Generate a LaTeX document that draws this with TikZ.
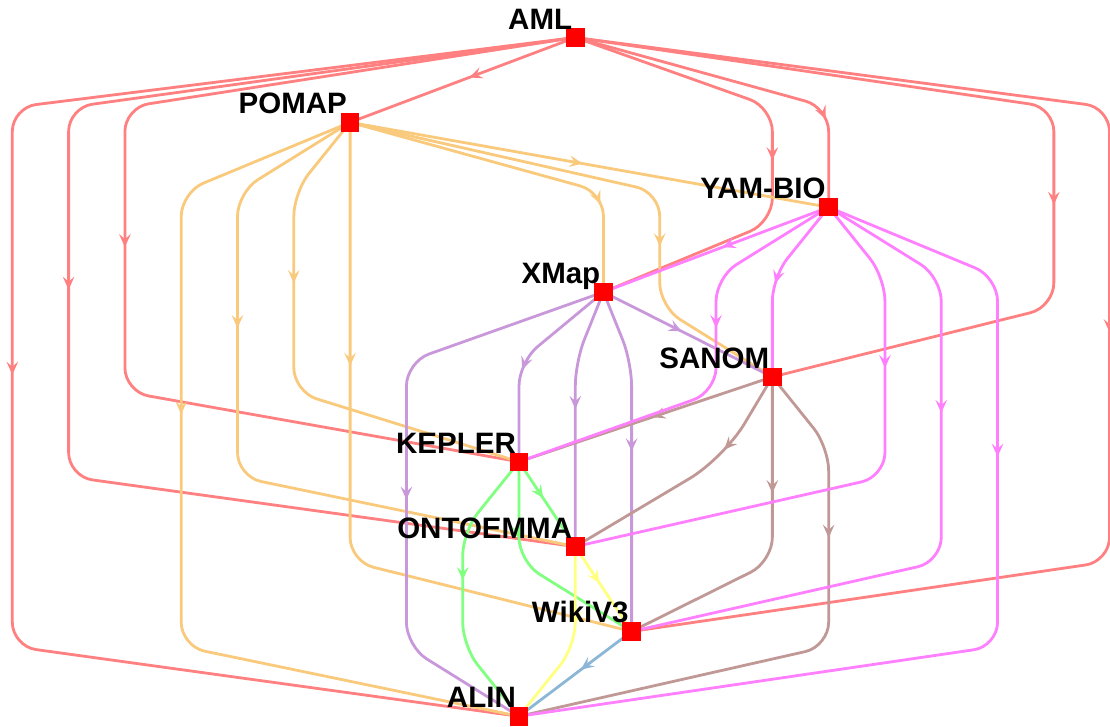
\documentclass[tikz,border=0pt]{standalone}
\usepackage{fontspec}
\setmainfont{Liberation Sans}
\usetikzlibrary{arrows.meta,decorations.markings,backgrounds}

\definecolor{cR}{RGB}{255,128,128}
\definecolor{cO}{RGB}{249,201,124}
\definecolor{cP}{RGB}{255,128,255}
\definecolor{cU}{RGB}{200,152,218}
\definecolor{cB}{RGB}{192,152,150}
\definecolor{cG}{RGB}{128,255,128}
\definecolor{cY}{RGB}{255,255,128}
\definecolor{cL}{RGB}{140,182,214}

% node centres (1pt = 1px, y grows downwards)
\def\xAML{575.3}   \def\yAML{37.5}
\def\xPOMAP{350.1} \def\yPOMAP{122.35}
\def\xYAM{828.65}  \def\yYAM{207.2}
\def\xXMap{603.45} \def\yXMap{292.05}
\def\xSANOM{772.35}\def\ySANOM{376.9}
\def\xKEPLER{519.0}\def\yKEPLER{461.75}
\def\xONTO{575.3}  \def\yONTO{546.6}
\def\xWiki{631.6}  \def\yWiki{631.45}
\def\xALIN{519.0}  \def\yALIN{716.3}

\tikzset{
  conn/.style={draw=#1, color=#1, line width=2.8pt, rounded corners=24pt},
  midarrow/.style={postaction={decorate,decoration={markings,
      mark=at position #1pt with {\arrow{Stealth[length=13pt,width=11.5pt,inset=5pt]}}}}},
  vert/.style={rectangle, fill=red, minimum size=18.5pt, inner sep=0pt, outer sep=0pt},
  lbl/.style={font=\fontsize{29.5}{32}\selectfont\bfseries, anchor=base east, inner sep=0pt, text=black},
}

% straight connector
\newcommand\EStraight[3]{%
  \pgfmathsetmacro\EPos{veclen(\csname x#3\endcsname-\csname x#2\endcsname,\csname y#3\endcsname-\csname y#2\endcsname)/2-7}%
  \draw[conn=#1,midarrow=\EPos] (#2.center) -- (#3.center);}
% connector through a vertical channel at x=#4
\newcommand\EChan[4]{%
  \pgfmathsetmacro\EYa{\csname y#2\endcsname+70}%
  \pgfmathsetmacro\EYb{\csname y#3\endcsname-70}%
  \pgfmathsetmacro\EPos{veclen(#4-\csname x#2\endcsname,70)+(\csname y#3\endcsname-\csname y#2\endcsname)/2-81}%
  \draw[conn=#1,midarrow=\EPos] (#2.center) -- (#4,\EYa) -- (#4,\EYb) [rounded corners=16pt] -- (#3.center);}
% channel straight above target
\newcommand\EDownLast[3]{%
  \pgfmathsetmacro\EYa{\csname y#2\endcsname+70}%
  \pgfmathsetmacro\EXc{\csname x#3\endcsname}%
  \pgfmathsetmacro\EPos{veclen(\csname x#3\endcsname-\csname x#2\endcsname,70)+(\csname y#3\endcsname-\csname y#2\endcsname)/2-81}%
  \draw[conn=#1,midarrow=\EPos] (#2.center) -- (\EXc,\EYa) -- (#3.center);}
% channel straight below source
\newcommand\EDownFirst[3]{%
  \pgfmathsetmacro\EYb{\csname y#3\endcsname-70}%
  \pgfmathsetmacro\EXc{\csname x#2\endcsname}%
  \pgfmathsetmacro\EPos{(\csname y#3\endcsname-\csname y#2\endcsname)/2-7}%
  \draw[conn=#1,midarrow=\EPos] (#2.center) -- (\EXc,\EYb) [rounded corners=16pt] -- (#3.center);}

\begin{document}
\begin{tikzpicture}[x=1pt,y=-1pt]
\useasboundingbox (0,0) rectangle (1110,726);

% vertices
\node[vert] (AML)    at (\xAML,\yAML) {};
\node[vert] (POMAP)  at (\xPOMAP,\yPOMAP) {};
\node[vert] (YAM)    at (\xYAM,\yYAM) {};
\node[vert] (XMap)   at (\xXMap,\yXMap) {};
\node[vert] (SANOM)  at (\xSANOM,\ySANOM) {};
\node[vert] (KEPLER) at (\xKEPLER,\yKEPLER) {};
\node[vert] (ONTO)   at (\xONTO,\yONTO) {};
\node[vert] (Wiki)   at (\xWiki,\yWiki) {};
\node[vert] (ALIN)   at (\xALIN,\yALIN) {};

\begin{scope}[on background layer]
% AML (red)
\EStraight{cR}{AML}{POMAP}
\EDownLast{cR}{AML}{YAM}
\EChan{cR}{AML}{XMap}{772.35}
\EChan{cR}{AML}{SANOM}{1053.85}
\EChan{cR}{AML}{KEPLER}{124.9}
\EChan{cR}{AML}{ONTO}{68.6}
\EChan{cR}{AML}{Wiki}{1109.5}
\EChan{cR}{AML}{ALIN}{12.3}
% POMAP (orange)
\EStraight{cO}{POMAP}{YAM}
\EDownLast{cO}{POMAP}{XMap}
\EChan{cO}{POMAP}{SANOM}{659.75}
\EChan{cO}{POMAP}{KEPLER}{293.8}
\EChan{cO}{POMAP}{ONTO}{237.5}
\EChan{cO}{POMAP}{Wiki}{350.1}
\EChan{cO}{POMAP}{ALIN}{181.2}
% XMap (purple)
\EStraight{cU}{XMap}{SANOM}
\EDownLast{cU}{XMap}{KEPLER}
\EChan{cU}{XMap}{ONTO}{575.3}
\EChan{cU}{XMap}{Wiki}{631.6}
\EChan{cU}{XMap}{ALIN}{406.4}
% SANOM (brown)
\EStraight{cB}{SANOM}{KEPLER}
\pgfmathsetmacro\EPos{veclen(\xSANOM-724,458-\ySANOM)-7}
\draw[conn=cB,rounded corners=40pt,midarrow=\EPos] (SANOM.center) -- (724,458) -- (ONTO.center);
\EChan{cB}{SANOM}{Wiki}{772.35}
\EChan{cB}{SANOM}{ALIN}{828.65}
% YAM-BIO (pink)
\EStraight{cP}{YAM}{XMap}
\EDownLast{cP}{YAM}{SANOM}
\EChan{cP}{YAM}{KEPLER}{716.05}
\EChan{cP}{YAM}{ONTO}{884.95}
\EChan{cP}{YAM}{Wiki}{941.25}
\EChan{cP}{YAM}{ALIN}{997.55}
% KEPLER (green)
\EStraight{cG}{KEPLER}{ONTO}
\EDownFirst{cG}{KEPLER}{Wiki}
\EChan{cG}{KEPLER}{ALIN}{462.7}
% ONTOEMMA (yellow)
\EStraight{cY}{ONTO}{Wiki}
\EDownFirst{cY}{ONTO}{ALIN}
% WikiV3 (blue)
\EStraight{cL}{Wiki}{ALIN}
\end{scope}

% labels
\node[lbl] (tAML)    at (\xAML-3,\yAML-8.5) {AML};
\node[lbl] (tPOMAP)  at (\xPOMAP-3,\yPOMAP-8.5) {POMAP};
\node[lbl] (tYAM)    at (\xYAM-3,\yYAM-8.5) {YAM-BIO};
\node[lbl] (tXMap)   at (\xXMap-3,\yXMap-8.5) {XMap};
\node[lbl] (tSANOM)  at (\xSANOM-3,\ySANOM-8.5) {SANOM};
\node[lbl] (tKEPLER) at (\xKEPLER-3,\yKEPLER-8.5) {KEPLER};
\node[lbl] (tONTO)   at (\xONTO-3,\yONTO-8.5) {ONTOEMMA};
\node[lbl] (tWiki)   at (\xWiki-3,\yWiki-8.5) {WikiV3};
\node[lbl] (tALIN)   at (\xALIN-3,\yALIN-8.5) {ALIN};
\end{tikzpicture}
\end{document}
